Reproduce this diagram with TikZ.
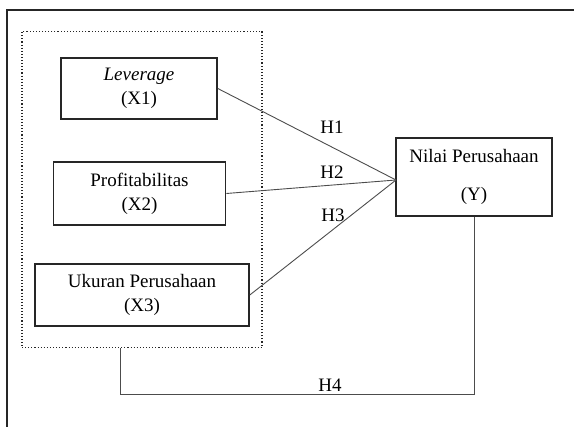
\documentclass[tikz,border=0pt]{standalone}
\usepackage{fontspec}
\setmainfont{Liberation Serif}
\begin{document}
\begin{tikzpicture}[x=1pt,y=-1pt,
  varbox/.style={draw=black!85,line width=1.6pt,align=center,inner sep=0pt,
    font=\fontsize{19}{24}\selectfont},
  conn/.style={draw=black!70,line width=0.9pt},
  hlab/.style={font=\fontsize{19}{22}\selectfont,inner sep=0pt}]
\useasboundingbox (0,0) rectangle (574,427);
\draw[line width=1.6pt,black!85] (7,427) -- (7,10) -- (574,10);
\node[draw=black!85,dotted,line width=1.1pt,minimum width=240pt,minimum height=316pt,inner sep=0pt] (group) at (142,189.5) {};
\node[varbox,minimum width=156pt,minimum height=61pt] (lev) at (139,88.5) {\textit{Leverage}\\(X1)};
\node[varbox,minimum width=172pt,minimum height=63pt] (prof) at (139.5,193.5) {Profitabilitas\\(X2)};
\node[varbox,minimum width=214pt,minimum height=62pt] (uk) at (142,295) {Ukuran Perusahaan\\(X3)};
\node[varbox,minimum width=156pt,minimum height=78pt] (nilai) at (474,177) {Nilai Perusahaan\\[14pt](Y)};
\coordinate (m) at (396,180);
\draw[conn] (lev.east) -- (m);
\draw[conn] (prof.east) -- (m);
\draw[conn] (uk.east) -- (m);
\coordinate (h4x) at (120,394);
\coordinate (h4r) at (474,394);
\draw[conn] (h4x |- group.south) -- (h4x) -- (h4r) -- (nilai.south);
\node[hlab] (h1) at (332,127) {H1};
\node[hlab] (h2) at (332,172) {H2};
\node[hlab] (h3) at (333,215) {H3};
\node[hlab] (h4) at (330,385) {H4};
\end{tikzpicture}
\end{document}
